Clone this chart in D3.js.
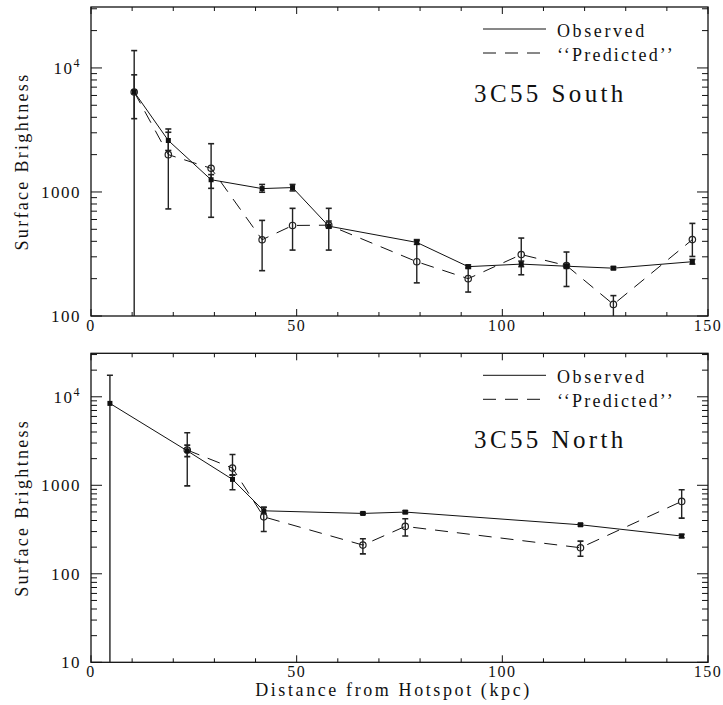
<!DOCTYPE html>
<html><head><meta charset="utf-8">
<script src="https://cdn.jsdelivr.net/npm/d3@7"></script>
<style>
html,body{margin:0;padding:0;background:#fff;}
text{font-family:"Liberation Serif","DejaVu Serif",serif;fill:#111;}
</style></head>
<body><svg id="chart" width="723" height="705"></svg>
<script>
// ---------- data ----------
const xTickLabels = [0, 50, 100, 150];
const legendLabels = ["Observed", "\u2018\u2018Predicted\u2019\u2019"];
const panelTitles = ["3C55 South", "3C55 North"];
const xTitle = "Distance from Hotspot (kpc)";
const yTitle = "Surface Brightness";

// South
const southX       = [10.5, 18.8, 29.2, 41.6, 49.0, 57.8, 79.2, 91.7, 104.6, 115.6, 127.0, 146.2];
const southObs     = [6400, 2600, 1255, 1065, 1085, 530, 392, 250, 262, 252, 243, 274];
const southObsHi   = [8800, 3030, 1380, 1150, 1150, 583, 405, 258, 277, 262, 250, 286];
const southObsLo   = [10,   2160, 1070, 995, 1020, 510, 378, 242, 250, 242, 237, 262];
const southPred    = [6400, 2000, 1550, 412, 537, 540, 274, 200, 313, 255, 124, 413];
const southPredHi  = [13800, 3220, 2450, 590, 738, 738, 413, 248, 425, 328, 146, 558];
const southPredLo  = [3900, 730, 625, 232, 340, 340, 185, 156, 215, 173, 10, 302];

// North
const northX       = [4.6, 23.4, 34.4, 42.0, 66.1, 76.4, 119.0, 143.6];
const northObs     = [8420, 2450, 1166, 515, 481, 498, 358, 267];
const northObsHi   = [17500, 2840, 1310, 565, 495, 515, 370, 279];
const northObsLo   = [1, 2110, 890, 480, 468, 482, 347, 255];
const northPredX   = [23.4, 34.4, 42.0, 66.1, 76.4, 119.0, 143.6];
const northPred    = [2500, 1565, 440, 211, 343, 197, 658];
const northPredHi  = [3920, 2230, 565, 249, 418, 234, 889];
const northPredLo  = [986, 1300, 300, 168, 267, 158, 426];

const southYTicks = [100, 1000, 10000];
const northYTicks = [10, 100, 1000, 10000];

// ---------- drawing ----------
const svg = d3.select("#chart");
const L = 91, R = 708;
const x = d3.scaleLinear().domain([0, 150]).range([L, R]);

function zip(xs, ys, hi, lo){ return xs.map((d,i)=>({x:d, y:ys[i], hi:hi[i], lo:lo[i]})); }

function drawPanel(cfg, idx){
  const y = d3.scaleLog().domain([cfg.ymin, 31000]).range([cfg.bottom, cfg.top]);
  const g = svg.append("g");
  const clipId = "clip" + idx;
  svg.append("clipPath").attr("id", clipId).append("rect")
    .attr("x", L).attr("y", cfg.top).attr("width", R-L).attr("height", cfg.bottom-cfg.top);

  // frame
  g.append("rect").attr("x", L).attr("y", cfg.top).attr("width", R-L).attr("height", cfg.bottom-cfg.top)
    .attr("fill","none").attr("stroke","#111").attr("stroke-width",1.3);

  // x ticks
  const xMinor = d3.range(0, 151, 10);
  xMinor.forEach(v=>{
    const major = xTickLabels.includes(v);
    const len = major ? 7 : 4;
    g.append("line").attr("x1",x(v)).attr("x2",x(v)).attr("y1",cfg.bottom).attr("y2",cfg.bottom-len).attr("stroke","#111");
    g.append("line").attr("x1",x(v)).attr("x2",x(v)).attr("y1",cfg.top).attr("y2",cfg.top+len).attr("stroke","#111");
  });
  xTickLabels.forEach(v=>{
    g.append("text").attr("x",x(v)).attr("y",cfg.bottom+15).attr("text-anchor","middle")
      .attr("font-size",16).attr("letter-spacing",1.5).text(v);
  });

  // y ticks
  const [d0, d1] = y.domain();
  const yt = [];
  for (let e = Math.floor(Math.log10(d0)); e <= Math.ceil(Math.log10(d1)); e++){
    for (let m = 1; m <= 9; m++){
      const v = m * Math.pow(10, e);
      if (v >= d0*0.999 && v <= d1) yt.push({v, major: m===1});
    }
  }
  yt.forEach(t=>{
    const len = t.major ? 11 : 6;
    g.append("line").attr("x1",L).attr("x2",L+len).attr("y1",y(t.v)).attr("y2",y(t.v)).attr("stroke","#111");
    g.append("line").attr("x1",R).attr("x2",R-len).attr("y1",y(t.v)).attr("y2",y(t.v)).attr("stroke","#111");
  });
  cfg.yTicks.forEach(v=>{
    const t = g.append("text").attr("x",L-10).attr("y",y(v)+6).attr("text-anchor","end")
      .attr("font-size",17).attr("letter-spacing",1.5);
    if (v >= 10000){
      t.append("tspan").text("10");
      t.append("tspan").attr("dy",-7).attr("font-size",12).text(Math.round(Math.log10(v)));
    } else t.text(v);
  });

  // y title
  const cy = (cfg.top+cfg.bottom)/2;
  g.append("text").attr("transform",`translate(28,${cy}) rotate(-90)`).attr("text-anchor","middle")
    .attr("font-size",18).attr("letter-spacing",2.3).text(yTitle);

  // data
  const dg = g.append("g").attr("clip-path",`url(#${clipId})`);
  const line = d3.line().x(d=>x(d.x)).y(d=>y(d.y));
  const errBars = (pts)=>{
    pts.forEach(d=>{
      dg.append("line").attr("x1",x(d.x)).attr("x2",x(d.x)).attr("y1",y(d.hi)).attr("y2",y(d.lo))
        .attr("stroke","#222").attr("stroke-width",1.4);
      [d.hi, d.lo].forEach(v=>{
        dg.append("line").attr("x1",x(d.x)-3).attr("x2",x(d.x)+3).attr("y1",y(v)).attr("y2",y(v))
          .attr("stroke","#222").attr("stroke-width",1.6);
      });
    });
  };
  errBars(cfg.pred);
  errBars(cfg.obs);
  dg.append("path").attr("d",line(cfg.pred)).attr("fill","none").attr("stroke","#111")
    .attr("stroke-width",1).attr("stroke-dasharray","13,9");
  dg.append("path").attr("d",line(cfg.obs)).attr("fill","none").attr("stroke","#111").attr("stroke-width",1);
  cfg.pred.forEach(d=>{
    dg.append("circle").attr("cx",x(d.x)).attr("cy",y(d.y)).attr("r",3.2)
      .attr("fill","none").attr("stroke","#222").attr("stroke-width",1.2);
  });
  cfg.obs.forEach(d=>{
    dg.append("rect").attr("x",x(d.x)-2.5).attr("y",y(d.y)-2.5).attr("width",5).attr("height",5).attr("fill","#111");
  });

  // legend
  const lx1 = 483, lx2 = 546, tx = 557;
  g.append("line").attr("x1",lx1).attr("x2",lx2).attr("y1",cfg.top+22).attr("y2",cfg.top+22)
    .attr("stroke","#111").attr("stroke-width",1);
  g.append("text").attr("x",tx).attr("y",cfg.top+30).attr("font-size",18).attr("letter-spacing",2.6).text(legendLabels[0]);
  g.append("line").attr("x1",lx1).attr("x2",lx2).attr("y1",cfg.top+46).attr("y2",cfg.top+46)
    .attr("stroke","#111").attr("stroke-width",1).attr("stroke-dasharray","13,9");
  g.append("text").attr("x",tx).attr("y",cfg.top+54).attr("font-size",18).attr("letter-spacing",2.2).text(legendLabels[1]);
  g.append("text").attr("x",474).attr("y",cfg.top+95).attr("font-size",25).attr("letter-spacing",3.4).text(cfg.title);
}

drawPanel({top:7, bottom:316, ymin:100, yTicks:southYTicks, title:panelTitles[0],
  obs: zip(southX, southObs, southObsHi, southObsLo),
  pred: zip(southX, southPred, southPredHi, southPredLo)}, 0);
drawPanel({top:353.3, bottom:662.3, ymin:10, yTicks:northYTicks, title:panelTitles[1],
  obs: zip(northX, northObs, northObsHi, northObsLo),
  pred: zip(northPredX, northPred, northPredHi, northPredLo)}, 1);

svg.append("text").attr("x",(253+534)/2).attr("y",696).attr("text-anchor","middle")
  .attr("font-size",18).attr("letter-spacing",2.6).text(xTitle);
</script></body></html>
